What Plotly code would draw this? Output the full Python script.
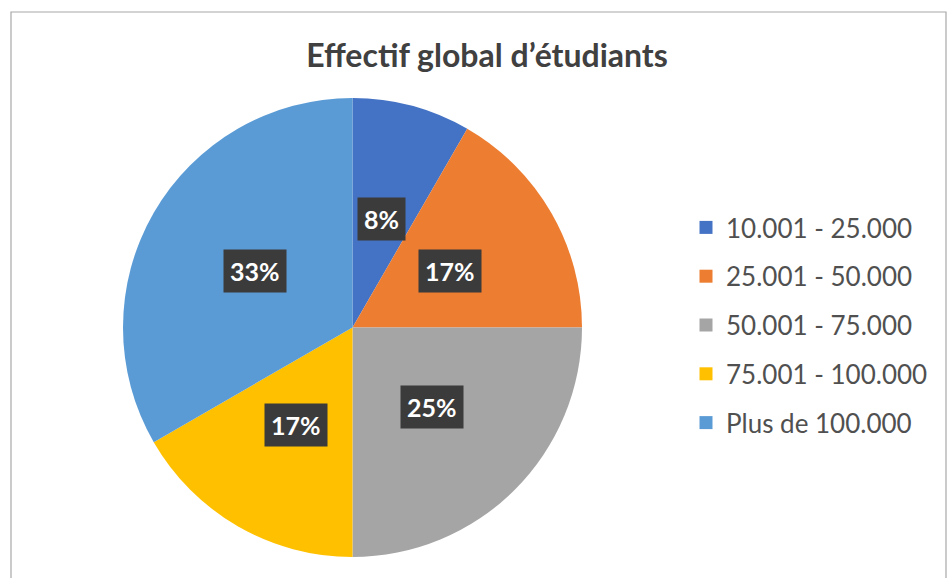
import math
import plotly.graph_objects as go

# Student headcount brackets and number of institutions in each
categories = ["10.001 - 25.000", "25.001 - 50.000", "50.001 - 75.000",
              "75.001 - 100.000", "Plus de 100.000"]
counts = [1, 2, 3, 2, 4]
colors = ["#4472C4", "#ED7D31", "#A5A5A5", "#FFC000", "#5B9BD5"]
title_text = "Effectif global d’étudiants"

W, H = 947, 578
FONT = "Lato"

# pie placement (pixels)
cx, cy, r = 352.5, 327.5, 229.5
dom_x = [(cx - r) / W, (cx + r) / W]
dom_y = [(H - cy - r) / H, (H - cy + r) / H]

fig = go.Figure()
fig.add_trace(go.Pie(
    labels=categories, values=counts, sort=False, direction="clockwise",
    rotation=0, marker=dict(colors=colors, line=dict(width=0)),
    textinfo="none", hoverinfo="label+percent", showlegend=False,
    domain=dict(x=dom_x, y=dom_y),
))

# legend entries (one group per category so the spacing can be opened up)
for name, col in zip(categories, colors):
    fig.add_trace(go.Scatter(
        x=[None], y=[None], mode="markers", name=name, legendgroup=name,
        marker=dict(symbol="square", size=13, color=col),
    ))

# percentage labels in dark boxes, placed at the middle angle of each slice
total = sum(counts)
cum = 0
for v in counts:
    mid = (cum + v / 2) / total * 2 * math.pi
    cum += v
    lx = cx + 0.49 * r * math.sin(mid)
    ly = cy - 0.49 * r * math.cos(mid)
    fig.add_annotation(
        x=lx / W, y=1 - ly / H, xref="paper", yref="paper",
        xanchor="center", yanchor="middle",
        text=f"<b>{round(v / total * 100)}%</b>", showarrow=False,
        font=dict(family=FONT, size=25, color="white"),
        bgcolor="#3b3b3b", borderpad=6,
    )

# chart frame
fig.add_shape(type="rect", xref="paper", yref="paper",
              x0=11 / W, x1=946 / W, y0=-0.02, y1=1 - 12 / H,
              line=dict(color="#a8a8a8", width=1.2), fillcolor="rgba(0,0,0,0)")

fig.update_layout(
    width=W, height=H, margin=dict(l=0, r=0, t=0, b=0),
    paper_bgcolor="white", plot_bgcolor="white",
    title=dict(text=f"<b>{title_text}</b>", x=487 / W, y=1 - 56 / H,
               xanchor="center", yanchor="middle",
               font=dict(family=FONT, size=32, color="#404040")),
    xaxis=dict(visible=False), yaxis=dict(visible=False),
    legend=dict(x=686 / W, y=1 - 204 / H, xanchor="left", yanchor="top",
                font=dict(family=FONT, size=26, color="#505050"),
                tracegroupgap=12, bgcolor="rgba(0,0,0,0)"),
)

fig.write_html("out.html")
